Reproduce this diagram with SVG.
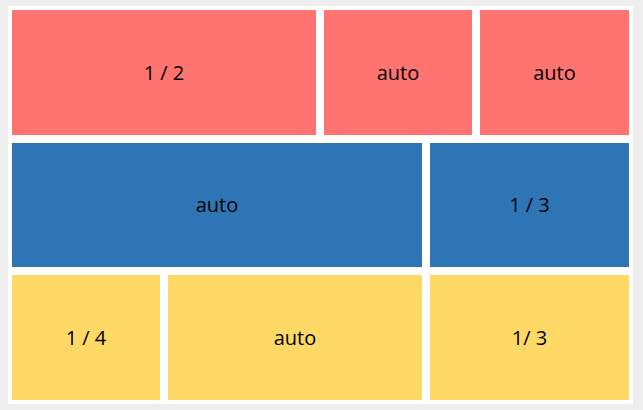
<svg xmlns="http://www.w3.org/2000/svg" width="643" height="410" viewBox="0 0 643 410">
<style>
.r{fill:#FF7370}.b{fill:#2E75B5}.y{fill:#FFD966}
text{font-family:"Open Sans","Noto Sans","DejaVu Sans",sans-serif;font-size:20px;fill:#000;text-anchor:middle}
</style>
<rect width="643" height="410" fill="#EEEEEE"/>
<rect x="8" y="6" width="625" height="398" fill="#FFFFFF"/>
<g id="a"><rect class="r" x="12" y="10" width="304" height="125"/><text x="164" y="80">1 / 2</text></g>
<g id="b"><rect class="r" x="324" y="10" width="148" height="125"/><text x="398" y="80">auto</text></g>
<g id="c"><rect class="r" x="480" y="10" width="149" height="125"/><text x="554.5" y="80">auto</text></g>
<g id="d"><rect class="b" x="12" y="143" width="410" height="124"/><text x="217" y="212">auto</text></g>
<g id="e"><rect class="b" x="430" y="143" width="199" height="124"/><text x="529.5" y="212">1 / 3</text></g>
<g id="f"><rect class="y" x="12" y="275" width="148" height="125"/><text x="86" y="345">1 / 4</text></g>
<g id="g"><rect class="y" x="168" y="275" width="254" height="125"/><text x="295" y="345">auto</text></g>
<g id="h"><rect class="y" x="430" y="275" width="199" height="125"/><text x="529.5" y="345">1/ 3</text></g>
<g id="connectors"/>
</svg>
